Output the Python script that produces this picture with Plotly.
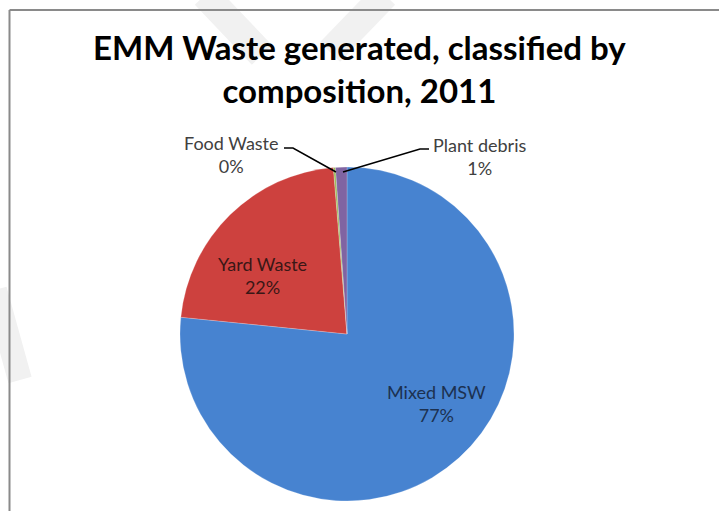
import plotly.graph_objects as go

# Waste composition, EMM 2011 (share of total generated, %)
categories = ["Mixed MSW", "Yard Waste", "Food Waste", "Plant debris"]
shares = [76.6, 22.1, 0.2, 1.1]
slice_colors = ["#4783D0", "#CD413E", "#9BBB59", "#8064A2"]

title_text = "EMM Waste generated, classified by<br>composition, 2011"

W, H = 719, 511
total = sum(shares)
pct = [round(v / total * 100) for v in shares]


def px(x):
    return x / W


def py(y):
    return 1 - y / H


# pie centre and radius in pixels
cx, cy, r = 347, 334, 167

fig = go.Figure(
    go.Pie(
        labels=categories,
        values=shares,
        sort=False,
        direction="clockwise",
        rotation=0,
        marker=dict(colors=slice_colors, line=dict(color="rgba(255,255,255,0.35)", width=0.6)),
        textinfo="none",
        hoverinfo="label+percent",
        showlegend=False,
        domain=dict(x=[px(cx - r), px(cx + r)], y=[py(cy + r), py(cy - r)]),
    )
)

label_font = "Lato, 'Open Sans', sans-serif"
annotations = [
    dict(text=title_text, x=0.5, y=py(68), xref="paper", yref="paper",
         showarrow=False, font=dict(family=label_font, size=33, color="#000000", weight="bold"),
         xanchor="center", yanchor="middle"),
    # inside labels
    dict(text=f"{categories[0]}<br>{pct[0]}%", x=px(436), y=py(403), xref="paper", yref="paper",
         showarrow=False, font=dict(family=label_font, size=18, color="#1C3150"),
         xanchor="center", yanchor="middle"),
    dict(text=f"{categories[1]}<br>{pct[1]}%", x=px(262), y=py(275), xref="paper", yref="paper",
         showarrow=False, font=dict(family=label_font, size=18, color="#3A1716"),
         xanchor="center", yanchor="middle"),
    # outside labels
    dict(text=f"{categories[2]}<br>{pct[2]}%", x=px(231), y=py(154), xref="paper", yref="paper",
         showarrow=False, font=dict(family=label_font, size=18, color="#404040"),
         xanchor="center", yanchor="middle"),
    dict(text=f"{categories[3]}<br>{pct[3]}%", x=px(479), y=py(156), xref="paper", yref="paper",
         showarrow=False, font=dict(family=label_font, size=18, color="#404040"),
         xanchor="center", yanchor="middle"),
]

shapes = [
    # faint background watermark strokes
    dict(type="line", xref="paper", yref="paper", layer="below",
         x0=px(205), y0=py(-5), x1=px(262), y1=py(55), line=dict(color="#F1F1F1", width=28)),
    dict(type="line", xref="paper", yref="paper", layer="below",
         x0=px(330), y0=py(52), x1=px(385), y1=py(-5), line=dict(color="#F1F1F1", width=28)),
    dict(type="line", xref="paper", yref="paper", layer="below",
         x0=px(-5), y0=py(290), x1=px(20), y1=py(380), line=dict(color="#F1F1F1", width=24)),
    # chart frame
    dict(type="line", xref="paper", yref="paper", x0=px(9.5), x1=px(9.5), y0=0, y1=py(10),
         line=dict(color="#8A8A8A", width=2)),
    dict(type="line", xref="paper", yref="paper", x0=px(9.5), x1=1, y0=py(10), y1=py(10),
         line=dict(color="#8A8A8A", width=2)),
    # leader lines for the small slices
    dict(type="path", xref="paper", yref="paper",
         path=f"M {px(284)},{py(148)} L {px(293)},{py(148)} L {px(336)},{py(172)}",
         line=dict(color="#000000", width=1.5)),
    dict(type="path", xref="paper", yref="paper",
         path=f"M {px(429)},{py(149)} L {px(420)},{py(149)} L {px(343)},{py(172)}",
         line=dict(color="#000000", width=1.5)),
]

fig.update_layout(
    width=W, height=H,
    margin=dict(l=0, r=0, t=0, b=0),
    paper_bgcolor="white",
    plot_bgcolor="white",
    annotations=annotations,
    shapes=shapes,
)

fig.write_html("out.html")
